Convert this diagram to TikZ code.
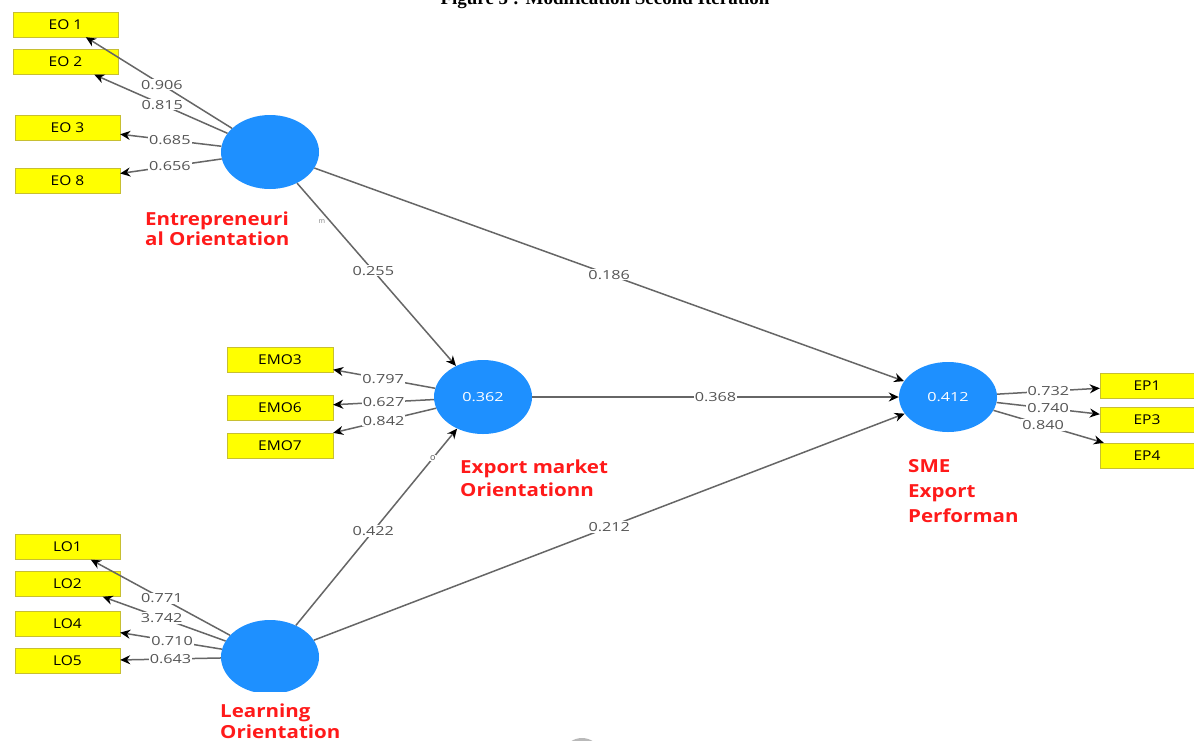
\documentclass[tikz,border=0pt]{standalone}
\usepackage{fontspec}
\setmainfont{Open Sans}
\newfontfamily\titlefont{Liberation Serif}
\newfontfamily\numfont[FakeStretch=1.3]{Open Sans}
\newfontfamily\boxfont[FakeStretch=1.15]{Open Sans}
\newfontfamily\redfont[FakeStretch=1.14]{Open Sans}
\usetikzlibrary{shapes.geometric,arrows.meta}
\definecolor{lvblue}{HTML}{1E90FF}
\definecolor{lvred}{HTML}{FF1A1A}
\definecolor{edgegray}{HTML}{666666}
\definecolor{labgray}{HTML}{555555}
\definecolor{boxyellow}{HTML}{FFFF00}
\begin{document}
\begin{tikzpicture}[x=1pt,y=-1pt,
  ind/.style={draw=yellow!75!black, line width=0.4pt, fill=boxyellow, minimum width=105pt, minimum height=25pt, inner sep=0pt, font=\boxfont\fontsize{13.5}{13.5}\selectfont},
  indr/.style={ind, minimum width=94pt},
  lat/.style={ellipse, fill=lvblue, minimum width=98pt, minimum height=74pt, inner sep=0pt, text=white, font=\numfont\fontsize{12.5}{12.5}\selectfont},
  conn/.style={draw=edgegray, line width=1.5pt, -{Stealth[length=10pt,width=9pt,color=black]}},
  lab/.style={fill=white, inner sep=1pt, text=labgray, font=\numfont\fontsize{12.5}{12.5}\selectfont},
  rl/.style={text=lvred, align=left, anchor=north west, inner sep=0pt}
]
\useasboundingbox (0,0) rectangle (1194,740);
\clip (0,0) rectangle (1194,740);
\fill[white] (0,0) rectangle (1194,740);

% title (cut at top in the reference)
\node[font=\titlefont\bfseries\fontsize{19}{19}\selectfont, anchor=base] (title) at (605,4) {Figure 5 : Modification Second Iteration};

% latent variables
\node[lat] (eo) at (270,152) {};
\node[lat] (emo) at (483,397) {0.362};
\node[lat, minimum height=70pt] (sme) at (948,397) {0.412};
\begin{scope}
  \clip (200,600) rectangle (340,691);
  \fill[lvblue] (270,657) ellipse (49pt and 37pt);
\end{scope}
\node[lat, fill=none] (lo) at (270,657) {};

% indicators
\node[ind] (eo1) at (65.5,24.5) {EO 1};
\node[ind] (eo2) at (65.5,62) {EO 2};
\node[ind] (eo3) at (67.5,128) {EO 3};
\node[ind] (eo8) at (67.5,181) {EO 8};

\node[ind, minimum width=106pt] (emo3) at (280,360) {EMO3};
\node[ind, minimum width=106pt] (emo6) at (280,407.5) {EMO6};
\node[ind, minimum width=106pt] (emo7) at (280,445.5) {EMO7};

\node[indr] (ep1) at (1147,385.5) {EP1};
\node[indr] (ep3) at (1147,419.5) {EP3};
\node[indr] (ep4) at (1147,455.5) {EP4};

\node[ind] (lo1) at (67.5,547) {LO1};
\node[ind] (lo2) at (67.5,584) {LO2};
\node[ind] (lo4) at (67.5,624) {LO4};
\node[ind] (lo5) at (67.5,661) {LO5};

% outer loadings
\draw[conn] (eo) -- node[lab,pos=0.48]{0.906} (eo1);
\draw[conn] (eo) -- node[lab,pos=0.49]{0.815} (eo2);
\draw[conn] (eo) -- node[lab,pos=0.51]{0.685} (eo3);
\draw[conn] (eo) -- node[lab,pos=0.51]{0.656} (eo8);

\draw[conn] (emo) -- node[lab,pos=0.51]{0.797} (emo3);
\draw[conn] (emo) -- node[lab,pos=0.50]{0.627} (emo6);
\draw[conn] (emo) -- node[lab,pos=0.51]{0.842} (emo7);

\draw[conn] (sme) -- node[lab,pos=0.5]{0.732} (ep1);
\draw[conn] (sme) -- node[lab,pos=0.5]{0.740} (ep3);
\draw[conn] (sme) -- node[lab,pos=0.45]{0.840} (ep4);

\draw[conn] (lo) -- node[lab,pos=0.49]{0.771} (lo1);
\draw[conn] (lo) -- node[lab,pos=0.52]{3.742} (lo2);
\draw[conn] (lo) -- node[lab,pos=0.49]{0.710} (lo4);
\draw[conn] (lo) -- node[lab,pos=0.50]{0.643} (lo5);

% structural paths
\draw[conn] (eo) -- node[lab,pos=0.48]{0.255} (emo);
\draw[conn] (eo) -- node[lab,pos=0.50]{0.186} (sme);
\draw[conn] (emo) -- node[lab,pos=0.50]{0.368} (sme);
\draw[conn] (lo) -- node[lab,pos=0.48]{0.422} node[lab,pos=0.85,inner sep=0.5pt,font=\fontsize{9}{9}\selectfont]{o} (emo);
\draw[conn] (lo) -- node[lab,pos=0.50]{0.212} (sme);

% small artefact text
\node[text=gray, font=\fontsize{7}{7}\selectfont] (mark) at (322,222) {m};

% construct names
\node[rl, font=\redfont\bfseries\fontsize{18}{20}\selectfont] (eoname) at (145,212) {Entrepreneuri\\al Orientation};
\node[rl, font=\redfont\bfseries\fontsize{18}{23}\selectfont] (emoname) at (460,460) {Export market\\Orientationn};
\node[rl, font=\redfont\bfseries\fontsize{18}{25}\selectfont] (smename) at (908,459) {SME\\Export\\Performan};
\node[rl, font=\redfont\bfseries\fontsize{18}{21}\selectfont] (loname) at (220,704) {Learning\\Orientation};

% partial grey shape at bottom
\fill[gray!55] (582,752) ellipse (17pt and 14pt);
\fill[white] (582,754) ellipse (14pt and 12pt);
\end{tikzpicture}
\end{document}
